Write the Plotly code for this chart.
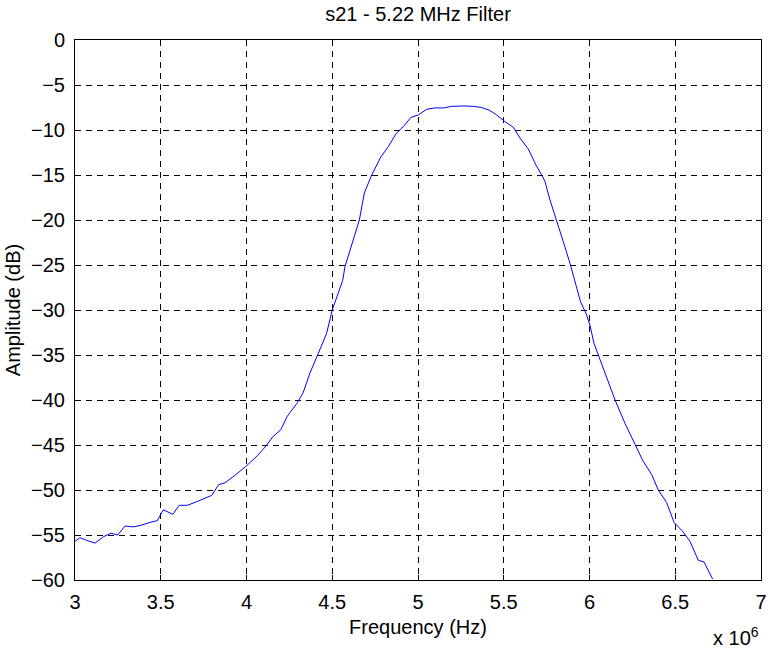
import plotly.graph_objects as go

# frequency in units of 1e6 Hz, amplitude in dB
freq = [3.0, 3.029, 3.068, 3.117, 3.165, 3.21, 3.249, 3.292, 3.34, 3.389,
        3.437, 3.48, 3.515, 3.57, 3.608, 3.655, 3.71, 3.752, 3.797, 3.838,
        3.875, 3.937, 3.995, 4.063, 4.114, 4.153, 4.2, 4.238, 4.293, 4.33,
        4.37, 4.419, 4.467, 4.5, 4.561, 4.574, 4.6, 4.627, 4.658, 4.687,
        4.73, 4.783, 4.827, 4.872, 4.915, 4.959, 5.002, 5.05, 5.099, 5.148,
        5.196, 5.264, 5.322, 5.371, 5.416, 5.459, 5.507, 5.556, 5.595, 5.643,
        5.688, 5.721, 5.74, 5.77, 5.809, 5.847, 5.886, 5.921, 5.948, 5.98,
        6.003, 6.026, 6.051, 6.1, 6.149, 6.207, 6.265, 6.31, 6.363, 6.401,
        6.45, 6.493, 6.543, 6.586, 6.634, 6.668, 6.718]
amp = [-55.7, -55.3, -55.6, -55.9, -55.2, -54.8, -55.0, -54.0, -54.1, -53.9,
       -53.6, -53.4, -52.2, -52.7, -51.7, -51.7, -51.3, -51.0, -50.6, -49.4,
       -49.2, -48.3, -47.4, -46.2, -45.1, -44.1, -43.3, -41.8, -40.4, -39.2,
       -37.0, -34.8, -32.6, -30.0, -26.7, -25.2, -23.5, -21.9, -20.0, -17.0,
       -15.0, -13.0, -11.85, -10.4, -9.6, -8.6, -8.33, -7.7, -7.55, -7.55,
       -7.37, -7.33, -7.37, -7.5, -7.8, -8.33, -9.07, -9.7, -10.9, -12.1,
       -13.9, -15.0, -15.7, -17.8, -20.0, -22.4, -24.8, -27.4, -29.1, -30.4,
       -31.7, -33.7, -35.0, -37.6, -40.0, -42.6, -45.0, -46.7, -48.3, -50.0,
       -51.4, -53.6, -54.6, -55.7, -57.8, -58.0, -59.9]

x_ticks = [3, 3.5, 4, 4.5, 5, 5.5, 6, 6.5, 7]
x_labels = ["3", "3.5", "4", "4.5", "5", "5.5", "6", "6.5", "7"]
y_ticks = list(range(0, -65, -5))

font = dict(family="Liberation Sans, Arial", size=20, color="black")

fig = go.Figure()
fig.add_trace(go.Scatter(x=freq, y=amp, mode="lines",
                         line=dict(color="#0000ff", width=1), showlegend=False))

axis_style = dict(showline=True, linecolor="black", linewidth=1, mirror="ticks",
                  ticks="inside", ticklen=5, tickcolor="black",
                  showgrid=True, gridcolor="black", gridwidth=1,
                  griddash="6px,5px", zeroline=False, tickfont=font,
                  automargin=False)

fig.update_xaxes(range=[3, 7], tickvals=x_ticks, ticktext=x_labels,
                 ticklabelstandoff=4,
                 title=dict(text="Frequency (Hz)", font=font, standoff=7),
                 **axis_style)
fig.update_yaxes(range=[-60, 0], tickvals=y_ticks, ticklabelstandoff=5,
                 title=dict(text="Amplitude (dB)", font=font, standoff=5),
                 **axis_style)

fig.add_annotation(text="x 10<sup>6</sup>", xref="paper", yref="paper",
                   x=1.0, y=-(636 - 580) / 540, xanchor="right", yanchor="middle",
                   showarrow=False, font=font)

fig.update_layout(
    width=769, height=648,
    margin=dict(l=75, r=8, t=40, b=68),
    paper_bgcolor="white", plot_bgcolor="white",
    title=dict(text="s21 - 5.22 MHz Filter", font=font,
               x=0.5, xref="paper", y=1 - 14 / 648, yanchor="middle"),
)

fig.write_html("out.html", config={"displayModeBar": False},
               post_script="document.body.style.margin='0';"
                           "document.body.style.overflow='hidden';")
